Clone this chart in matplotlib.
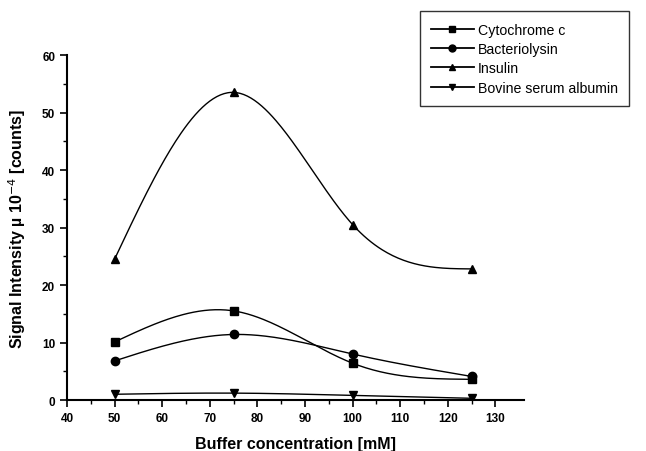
import numpy as np
import matplotlib
matplotlib.use('Agg')
import matplotlib.pyplot as plt

plt.rcParams['font.family'] = ['Liberation Sans', 'DejaVu Sans']

buffer_mM = [50, 75, 100, 125]
cytochrome = [10.1, 15.5, 6.4, 3.6]
bacteriolysin = [6.8, 11.4, 8.0, 4.1]
insulin = [24.5, 53.5, 30.5, 22.8]
bsa = [1.0, 1.2, 0.8, 0.3]

series = [
    ('Cytochrome c', cytochrome, 's'),
    ('Bacteriolysin', bacteriolysin, 'o'),
    ('Insulin', insulin, '^'),
    ('Bovine serum albumin', bsa, 'v'),
]


def natural_spline(x, y, n=200):
    # natural cubic spline through the points, only used to draw the smooth line
    x = np.asarray(x, float)
    y = np.asarray(y, float)
    k = len(x)
    h = np.diff(x)
    A = np.zeros((k, k))
    b = np.zeros(k)
    A[0, 0] = A[-1, -1] = 1
    for i in range(1, k - 1):
        A[i, i - 1] = h[i - 1]
        A[i, i] = 2 * (h[i - 1] + h[i])
        A[i, i + 1] = h[i]
        b[i] = 6 * ((y[i + 1] - y[i]) / h[i] - (y[i] - y[i - 1]) / h[i - 1])
    M = np.linalg.solve(A, b)
    xs = np.linspace(x[0], x[-1], n)
    idx = np.clip(np.searchsorted(x, xs) - 1, 0, k - 2)
    x0, x1 = x[idx], x[idx + 1]
    hh = x1 - x0
    ys = (M[idx] * (x1 - xs) ** 3 / (6 * hh) + M[idx + 1] * (xs - x0) ** 3 / (6 * hh)
          + (y[idx] / hh - M[idx] * hh / 6) * (x1 - xs)
          + (y[idx + 1] / hh - M[idx + 1] * hh / 6) * (xs - x0))
    return xs, ys


fig = plt.figure(figsize=(6.46, 4.52), dpi=100)
ax = fig.add_axes([0.1037, 0.1128, 0.7075, 0.7633])

handles = []
for name, vals, mk in series:
    xs, ys = natural_spline(buffer_mM, vals)
    ax.plot(xs, ys, color='black', lw=1.0)
    ax.plot(buffer_mM, vals, linestyle='none', marker=mk, color='black', ms=6)
    h, = ax.plot([], [], color='black', lw=1.3, marker=mk, ms=5, label=name)
    handles.append(h)

ax.set_xlim(40, 136)
ax.set_ylim(0, 60)
ax.set_xticks(range(40, 131, 10))
ax.set_xticks(range(45, 131, 10), minor=True)
ax.set_yticks(range(0, 61, 10))
ax.set_yticks(range(5, 60, 10), minor=True)
ax.spines['top'].set_visible(False)
ax.spines['right'].set_visible(False)
ax.spines['left'].set_linewidth(1.5)
ax.spines['bottom'].set_linewidth(1.5)
ax.tick_params(which='major', direction='out', length=5, width=1.2, labelsize=8.5)
ax.tick_params(which='minor', direction='out', length=3, width=1.0)
for lab in ax.get_xticklabels() + ax.get_yticklabels():
    lab.set_fontweight('bold')

ax.set_xlabel('Buffer concentration [mM]', fontsize=11.5, fontweight='bold', labelpad=9)
ax.set_ylabel('Signal Intensity µ 10$^{-4}$ [counts]', fontsize=11.5, fontweight='bold', labelpad=10)

leg = fig.legend(handles=handles, loc='upper left', bbox_to_anchor=(0.650, 0.973),
                 frameon=True, fancybox=False, edgecolor='black', fontsize=10.2,
                 handlelength=3.0, handletextpad=0.3, borderpad=0.8, labelspacing=0.38,
                 borderaxespad=0)
leg.get_frame().set_linewidth(1.0)

plt.savefig('out.png', dpi=100)
